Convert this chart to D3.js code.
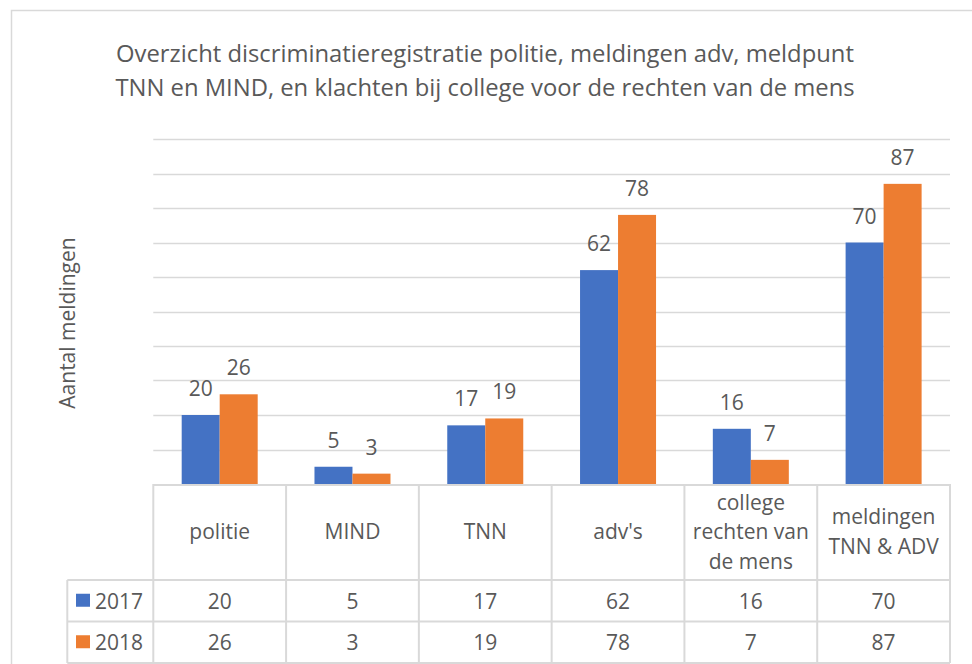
<!DOCTYPE html>
<html>
<head>
<meta charset="utf-8">
<script src="https://cdn.jsdelivr.net/npm/d3@7"></script>
<style>
  body { margin: 0; background: #fff; }
  svg text { font-family: "Open Sans", Lato, sans-serif; fill: #595959; }
</style>
</head>
<body>
<div id="chart"></div>
<script>
// data
var categories = ["politie", "MIND", "TNN", "adv's", "college rechten van de mens", "meldingen TNN & ADV"];
var categoryLines = [["politie"], ["MIND"], ["TNN"], ["adv's"], ["college", "rechten van", "de mens"], ["meldingen", "TNN & ADV"]];
var seriesNames = ["2017", "2018"];
var values2017 = [20, 5, 17, 62, 16, 70];
var values2018 = [26, 3, 19, 78, 7, 87];
var seriesColors = ["#4472C4", "#ED7D31"];
var titleLines = ["Overzicht discriminatieregistratie politie, meldingen adv, meldpunt",
                  "TNN en MIND, en klachten bij college voor de rechten van de mens"];
var yLabel = "Aantal meldingen";

var svgWidth = 972;
var svgHeight = 664;

// plot area
var plot = {left: 153.3, right: 950, top: 139, bottom: 484};
// data table rows
var headerBottom = 580;
var rowHeight = 41.5;
var legendLeft = 67.3;

var svg = d3.select("#chart")
  .append("svg")
  .attr("width", svgWidth)
  .attr("height", svgHeight);

// chart frame
svg.append("rect")
  .attr("x", 11.5)
  .attr("y", 10.5)
  .attr("width", 1000)
  .attr("height", 700)
  .attr("fill", "none")
  .attr("stroke", "#D9D9D9")
  .attr("stroke-width", 1.5);

var series = seriesNames.map(function(name, i) {
  return {name: name, values: i === 0 ? values2017 : values2018, color: seriesColors[i]};
});

var x0 = d3.scaleBand()
  .domain(categories)
  .range([plot.left, plot.right]);

var groupWidth = x0.bandwidth();
var barWidth = 38;
var x1 = d3.scaleBand()
  .domain(seriesNames)
  .range([(groupWidth - 2 * barWidth) / 2, (groupWidth + 2 * barWidth) / 2]);

var y = d3.scaleLinear()
  .domain([0, 100])
  .range([plot.bottom, plot.top]);

// gridlines
svg.append("g")
  .selectAll("line")
  .data(y.ticks(10).filter(function(d) { return d > 0; }))
  .enter()
  .append("line")
  .attr("x1", plot.left)
  .attr("x2", plot.right)
  .attr("y1", function(d) { return Math.round(y(d)) + 0.5; })
  .attr("y2", function(d) { return Math.round(y(d)) + 0.5; })
  .attr("stroke", "#D9D9D9")
  .attr("stroke-width", 1.5);

// title
svg.append("g")
  .selectAll("text")
  .data(titleLines)
  .enter()
  .append("text")
  .attr("x", 485)
  .attr("y", function(d, i) { return 62 + i * 33.5; })
  .attr("text-anchor", "middle")
  .style("font-size", "23.8px")
  .text(function(d) { return d; });

// y label
svg.append("text")
  .attr("transform", "translate(75, 323) rotate(-90)")
  .attr("text-anchor", "middle")
  .style("font-size", "21px")
  .text(yLabel);

// bars
var groups = svg.append("g")
  .selectAll("g")
  .data(series)
  .enter()
  .append("g")
  .attr("fill", function(d) { return d.color; });

groups.selectAll("rect")
  .data(function(s) { return s.values.map(function(v, i) { return {name: s.name, cat: categories[i], value: v}; }); })
  .enter()
  .append("rect")
  .attr("x", function(d) { return x0(d.cat) + x1(d.name); })
  .attr("y", function(d) { return y(d.value); })
  .attr("width", x1.bandwidth())
  .attr("height", function(d) { return y(0) - y(d.value); });

// data labels
groups.selectAll("text")
  .data(function(s) { return s.values.map(function(v, i) { return {name: s.name, cat: categories[i], value: v}; }); })
  .enter()
  .append("text")
  .attr("x", function(d) { return x0(d.cat) + x1(d.name) + x1.bandwidth() / 2; })
  .attr("y", function(d) { return y(d.value) - 19; })
  .attr("text-anchor", "middle")
  .style("font-size", "21px")
  .text(function(d) { return d.value; });

// data table
var table = svg.append("g");
var tableBottom = headerBottom + 2 * rowHeight;
var lineStyle = function(sel) {
  return sel.attr("stroke", "#D9D9D9").attr("stroke-width", 2).attr("fill", "none");
};

// horizontal lines
table.append("line").call(lineStyle)
  .attr("x1", plot.left).attr("x2", plot.right).attr("y1", plot.bottom + 1).attr("y2", plot.bottom + 1);
[headerBottom, headerBottom + rowHeight, tableBottom].forEach(function(yy) {
  table.append("line").call(lineStyle)
    .attr("x1", legendLeft).attr("x2", plot.right).attr("y1", yy).attr("y2", yy);
});
// vertical lines
table.append("line").call(lineStyle)
  .attr("x1", legendLeft).attr("x2", legendLeft).attr("y1", headerBottom).attr("y2", tableBottom);
categories.forEach(function(c) {
  table.append("line").call(lineStyle)
    .attr("x1", x0(c)).attr("x2", x0(c)).attr("y1", plot.bottom).attr("y2", tableBottom);
});
table.append("line").call(lineStyle)
  .attr("x1", plot.right).attr("x2", plot.right).attr("y1", plot.bottom).attr("y2", tableBottom);

// category labels
var lineGap = 29.5;
var headerMid = (plot.bottom + headerBottom) / 2;
categories.forEach(function(c, i) {
  var lines = categoryLines[i];
  var firstY = headerMid - (lines.length - 1) * lineGap / 2 + 7;
  table.append("text")
    .attr("text-anchor", "middle")
    .style("font-size", "21px")
    .selectAll("tspan")
    .data(lines)
    .enter()
    .append("tspan")
    .attr("x", x0(c) + groupWidth / 2)
    .attr("y", function(d, j) { return firstY + j * lineGap; })
    .text(function(d) { return d; });
});

// rows: legend key + values
series.forEach(function(s, r) {
  var rowMid = headerBottom + r * rowHeight + rowHeight / 2;
  table.append("rect")
    .attr("x", 76)
    .attr("y", rowMid - 7)
    .attr("width", 14)
    .attr("height", 13)
    .attr("fill", s.color);
  table.append("text")
    .attr("x", 95)
    .attr("y", rowMid + 8)
    .style("font-size", "21px")
    .text(s.name);
  table.selectAll(null)
    .data(s.values)
    .enter()
    .append("text")
    .attr("x", function(d, i) { return x0(categories[i]) + groupWidth / 2; })
    .attr("y", rowMid + 8)
    .attr("text-anchor", "middle")
    .style("font-size", "21px")
    .text(function(d) { return d; });
});
</script>
</body>
</html>
